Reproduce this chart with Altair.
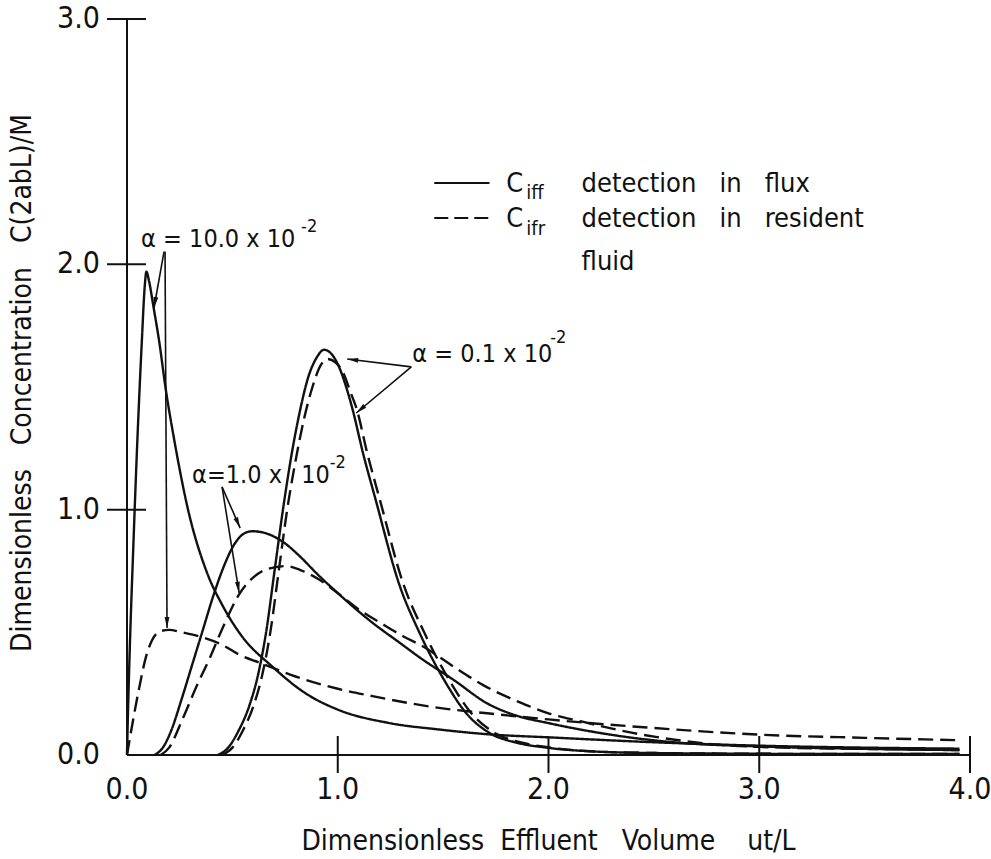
import altair as alt
import pandas as pd
import math

NB = "\u00a0"

# ---------------- data ----------------
a10_flux_x = [0, 0.004, 0.012, 0.03, 0.05, 0.07, 0.085, 0.092, 0.105, 0.125, 0.152, 0.184, 0.223, 0.287, 0.381,
              0.453, 0.54, 0.69, 0.85, 1.0, 1.24, 1.48, 1.72, 2.0, 2.5, 3.0, 3.5, 3.95]
a10_flux_y = [0, 0.15, 0.4, 0.85, 1.3, 1.68, 1.92, 1.97, 1.93, 1.83, 1.69, 1.49, 1.29, 1.01, 0.74,
              0.61, 0.49, 0.36, 0.25, 0.185, 0.131, 0.104, 0.084, 0.072, 0.052, 0.038, 0.03, 0.026]

a10_res_x = [0, 0.02, 0.057, 0.09, 0.12, 0.16, 0.2, 0.26, 0.358, 0.45, 0.53, 0.63, 0.8, 1.0, 1.165,
             1.48, 1.71, 2.0, 2.5, 3.0, 3.5, 3.95]
a10_res_y = [0, 0.1, 0.27, 0.4, 0.47, 0.505, 0.51, 0.5, 0.48, 0.45, 0.41, 0.376, 0.32, 0.27, 0.24,
             0.192, 0.17, 0.145, 0.11, 0.083, 0.07, 0.06]

a1_flux_x = [0.13, 0.17, 0.21, 0.26, 0.31, 0.36, 0.41, 0.46, 0.51, 0.56, 0.595, 0.64, 0.738, 0.82, 0.9,
             1.0, 1.165, 1.29, 1.403, 1.55, 1.71, 1.85, 2.0, 2.15, 2.4, 2.62, 3.0, 3.5, 3.95]
a1_flux_y = [0, 0.03, 0.1, 0.23, 0.37, 0.51, 0.65, 0.77, 0.86, 0.905, 0.912, 0.908, 0.87, 0.81, 0.74,
             0.66, 0.539, 0.46, 0.389, 0.306, 0.21, 0.16, 0.13, 0.104, 0.07, 0.05, 0.035, 0.025, 0.02]

a1_res_x = [0.16, 0.2, 0.263, 0.33, 0.39, 0.46, 0.532, 0.627, 0.7, 0.753, 0.82, 0.912, 1.0, 1.1, 1.2,
            1.31, 1.403, 1.55, 1.69, 1.77, 1.85, 2.0, 2.15, 2.4, 2.6, 2.84, 3.0, 3.5, 3.95]
a1_res_y = [0, 0.03, 0.145, 0.28, 0.39, 0.53, 0.655, 0.742, 0.765, 0.77, 0.755, 0.715, 0.66, 0.593, 0.54,
            0.484, 0.443, 0.36, 0.285, 0.25, 0.22, 0.17, 0.138, 0.09, 0.062, 0.04, 0.033, 0.025, 0.02]

a01_flux_x = [0.43, 0.48, 0.53, 0.58, 0.62, 0.66, 0.70, 0.74, 0.78, 0.82, 0.86, 0.90, 0.935, 0.97,
              1.007, 1.04, 1.07, 1.12, 1.18, 1.29, 1.387, 1.513, 1.608, 1.72, 1.85, 1.99, 2.2, 2.5, 3.0, 3.5, 3.95]
a01_flux_y = [0, 0.03, 0.1, 0.2, 0.32, 0.5, 0.75, 1.0, 1.22, 1.4, 1.54, 1.62, 1.652, 1.635,
              1.58, 1.5, 1.41, 1.23, 1.04, 0.70, 0.50, 0.294, 0.172, 0.09, 0.05, 0.03, 0.015, 0.008, 0.005, 0.004, 0.004]

a01_res_x = [0.45, 0.5, 0.55, 0.6, 0.64, 0.68, 0.72, 0.76, 0.8, 0.84, 0.88, 0.92, 0.951, 0.99,
             1.03, 1.06, 1.09, 1.14, 1.2, 1.31, 1.41, 1.537, 1.632, 1.745, 1.875, 2.01, 2.2, 2.5, 3.0, 3.5, 3.95]
a01_res_y = [0, 0.03, 0.1, 0.2, 0.32, 0.5, 0.75, 1.0, 1.2, 1.37, 1.5, 1.59, 1.614, 1.6,
             1.55, 1.48, 1.41, 1.23, 1.04, 0.70, 0.50, 0.294, 0.172, 0.09, 0.05, 0.03, 0.015, 0.008, 0.005, 0.004, 0.004]

x_ticks = [1, 2, 3, 4]
y_ticks = [1, 2, 3]
x_label_values = [0, 1, 2, 3, 4]
y_label_values = [0, 1, 2, 3]
x_labels = ["0.0", "1.0", "2.0", "3.0", "4.0"]
y_labels = ["0.0", "1.0", "2.0", "3.0"]

x_title = "Dimensionless" + NB * 2 + "Effluent" + NB * 3 + "Volume" + NB * 4 + "ut/L"
y_title = "Dimensionless" + NB * 3 + "Concentration" + NB * 3 + "C(2abL)/M"

# annotation texts (anchor in data units)
ann_text = ["α = 10.0 x 10", "-2", "α=1.0 x", "10", "-2", "α = 0.1 x 10", "-2"]
ann_x = [0.067, 0.826, 0.309, 0.827, 0.962, 1.354, 2.008]
ann_y = [2.07, 2.13, 1.109, 1.109, 1.17, 1.602, 1.68]
ann_size = [25, 18, 25, 25, 18, 25, 18]

# arrows: start -> tip (data units)
arr_x0 = [0.1758, 0.1805, 0.451, 0.451, 1.349, 1.349]
arr_y0 = [2.052, 2.052, 1.093, 1.093, 1.582, 1.582]
arr_x1 = [0.128, 0.190, 0.537, 0.532, 1.045, 1.088]
arr_y1 = [1.822, 0.518, 0.925, 0.661, 1.614, 1.394]

# legend
leg_line_x0, leg_line_x1 = 1.458, 1.72
leg_line_y = [2.332, 2.189]
leg_kind = ["flux", "resident"]
leg_text = ["C", "iff", "detection" + NB * 3 + "in" + NB * 3 + "flux",
            "C", "ifr", "detection" + NB * 3 + "in" + NB * 3 + "resident", "fluid"]
leg_tx = [1.80, 1.895, 2.157, 1.80, 1.895, 2.157, 2.157]
leg_ty = [2.295, 2.268, 2.295, 2.152, 2.118, 2.152, 1.977]
leg_size = [27, 20, 27, 27, 20, 27, 27]

# ---------------- build ----------------
W, H = 843, 736
FONT = "DejaVu Sans Condensed, DejaVu Sans"
INK = "#111111"

rows = []
for name, kind, xs_, ys_ in [
    ("a10", "flux", a10_flux_x, a10_flux_y),
    ("a10", "resident", a10_res_x, a10_res_y),
    ("a1", "flux", a1_flux_x, a1_flux_y),
    ("a1", "resident", a1_res_x, a1_res_y),
    ("a01", "flux", a01_flux_x, a01_flux_y),
    ("a01", "resident", a01_res_x, a01_res_y),
]:
    for i, (xv, yv) in enumerate(zip(xs_, ys_)):
        rows.append({"series": name + "_" + kind, "kind": kind, "x": xv, "y": yv, "order": i})
curves = pd.DataFrame(rows)

xs = alt.Scale(domain=[0, 4], nice=False, zero=False)
ys = alt.Scale(domain=[0, 3], nice=False, zero=False)
dash_scale = alt.Scale(domain=["flux", "resident"], range=[[1, 0], [15, 7]])

lines = alt.Chart(curves).mark_line(color=INK, strokeWidth=2.4, interpolate="monotone").encode(
    x=alt.X("x:Q", scale=xs, axis=None),
    y=alt.Y("y:Q", scale=ys, axis=None),
    detail="series:N",
    order="order:Q",
    strokeDash=alt.StrokeDash("kind:N", scale=dash_scale, legend=None),
)

# axis lines
base_rule = pd.DataFrame({"k": [0]})
y_domain = alt.Chart(base_rule).mark_rule(color=INK, strokeWidth=2).encode(
    x=alt.value(0), y=alt.value(0), y2=alt.value(H))
x_domain = alt.Chart(base_rule).mark_rule(color=INK, strokeWidth=2).encode(
    y=alt.value(H), x=alt.value(0), x2=alt.value(W))

ytick_df = pd.DataFrame({"v": y_ticks})
xtick_df = pd.DataFrame({"v": x_ticks})
yticks = alt.Chart(ytick_df).mark_rule(color=INK, strokeWidth=2).encode(
    y=alt.Y("v:Q", scale=ys, axis=None), x=alt.value(-20), x2=alt.value(19))
xticks = alt.Chart(xtick_df).mark_rule(color=INK, strokeWidth=2).encode(
    x=alt.X("v:Q", scale=xs, axis=None), y=alt.value(H - 19), y2=alt.value(H + 18))

ylab_df = pd.DataFrame({"v": y_label_values, "t": y_labels})
xlab_df = pd.DataFrame({"v": x_label_values, "t": x_labels})
ylabels = alt.Chart(ylab_df).mark_text(font=FONT, fontSize=30, color=INK, align="right", baseline="middle").encode(
    y=alt.Y("v:Q", scale=ys, axis=None), x=alt.value(-27), text="t:N")
xlabels = alt.Chart(xlab_df).mark_text(font=FONT, fontSize=30, color=INK, align="center", baseline="top").encode(
    x=alt.X("v:Q", scale=xs, axis=None), y=alt.value(H + 20), text="t:N")

title_df = pd.DataFrame({"t": [x_title]})
ytitle_df = pd.DataFrame({"t": [y_title]})
xtitle = alt.Chart(title_df).mark_text(font=FONT, fontSize=28, color=INK, align="center", baseline="middle").encode(
    x=alt.value(W / 2), y=alt.value(H + 87), text="t:N")
ytitle = alt.Chart(ytitle_df).mark_text(font=FONT, fontSize=28, color=INK, align="center", baseline="middle",
                                        angle=270).encode(
    x=alt.value(-104), y=alt.value(H / 2 - 4), text="t:N")

# annotations
ann_df = pd.DataFrame({"t": ann_text, "x": ann_x, "y": ann_y, "s": ann_size})
ann = alt.Chart(ann_df).mark_text(font=FONT, color=INK, align="left", baseline="alphabetic").encode(
    x=alt.X("x:Q", scale=xs, axis=None), y=alt.Y("y:Q", scale=ys, axis=None),
    text="t:N", size=alt.Size("s:Q", scale=None, legend=None))

# arrows
px_per_x = W / 4.0
px_per_y = H / 3.0
angles = []
for x0, y0, x1, y1 in zip(arr_x0, arr_y0, arr_x1, arr_y1):
    dx = (x1 - x0) * px_per_x
    dy = -(y1 - y0) * px_per_y
    angles.append(math.degrees(math.atan2(dx, -dy)) % 360)
arr_df = pd.DataFrame({"x0": arr_x0, "y0": arr_y0, "x1": arr_x1, "y1": arr_y1, "ang": angles})
shafts = alt.Chart(arr_df).mark_rule(color=INK, strokeWidth=1.6).encode(
    x=alt.X("x0:Q", scale=xs, axis=None), y=alt.Y("y0:Q", scale=ys, axis=None),
    x2="x1:Q", y2="y1:Q")
heads = alt.Chart(arr_df).mark_point(
    shape="M0,0L0.22,1L-0.22,1Z", filled=True, color=INK, opacity=1, size=484, strokeWidth=0).encode(
    x=alt.X("x1:Q", scale=xs, axis=None), y=alt.Y("y1:Q", scale=ys, axis=None),
    angle=alt.Angle("ang:Q", scale=None))

# legend
leg_df = pd.DataFrame({"x0": [leg_line_x0] * 2, "x1": [leg_line_x1] * 2, "y": leg_line_y, "kind": leg_kind})
leg_lines = alt.Chart(leg_df).mark_rule(color=INK, strokeWidth=2).encode(
    x=alt.X("x0:Q", scale=xs, axis=None), x2="x1:Q", y=alt.Y("y:Q", scale=ys, axis=None),
    strokeDash=alt.StrokeDash("kind:N", scale=alt.Scale(domain=["flux", "resident"], range=[[1, 0], [14, 6]]), legend=None))
legt_df = pd.DataFrame({"t": leg_text, "x": leg_tx, "y": leg_ty, "s": leg_size})
leg_texts = alt.Chart(legt_df).mark_text(font=FONT, color=INK, align="left", baseline="alphabetic").encode(
    x=alt.X("x:Q", scale=xs, axis=None), y=alt.Y("y:Q", scale=ys, axis=None),
    text="t:N", size=alt.Size("s:Q", scale=None, legend=None))

chart = alt.layer(
    lines, y_domain, x_domain, yticks, xticks, ylabels, xlabels, xtitle, ytitle,
    shafts, heads, ann, leg_lines, leg_texts
).resolve_scale(
    strokeDash="independent", size="independent"
).properties(
    width=W, height=H,
    autosize=alt.AutoSizeParams(type="none"),
    padding={"left": 127, "top": 19, "right": 21, "bottom": 104},
    background="white",
).configure_view(stroke=None)

chart.save("out.html", embed_options={"renderer": "svg", "actions": False})
